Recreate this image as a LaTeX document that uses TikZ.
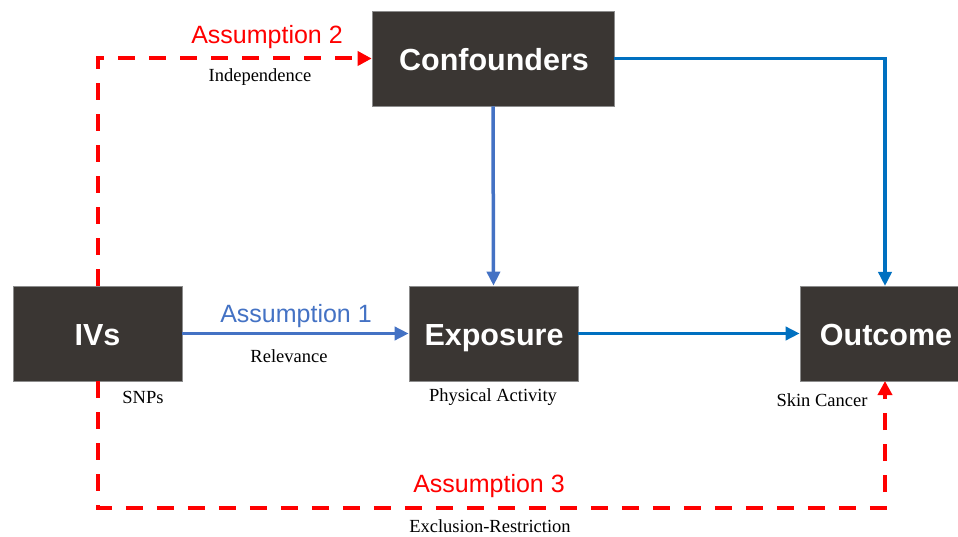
\documentclass[tikz,border=0pt]{standalone}
\usepackage{fontspec}
\setmainfont{Liberation Serif}
\newfontfamily\boxfont{Liberation Sans}
\usetikzlibrary{arrows.meta,calc}
\definecolor{boxfill}{HTML}{3A3633}
\definecolor{redline}{HTML}{FF0000}
\definecolor{blueA}{HTML}{4472C4}
\definecolor{blueB}{HTML}{0070C0}
\tikzset{
  darkbox/.style={draw=black!45, line width=0.6pt, fill=boxfill, minimum height=95pt, inner sep=0pt},
  boxlabel/.style={text=white, font=\boxfont\bfseries\fontsize{30.5}{33}\selectfont, inner sep=0pt, anchor=base},
  reddash/.style={draw=redline, line width=4pt, dash pattern=on 17pt off 14pt, -{Triangle[length=14pt,width=14pt]}},
  bluearrowA/.style={draw=blueA, line width=3.5pt, -{Triangle[length=14pt,width=13pt]}},
  bluearrowB/.style={draw=blueB, line width=3.5pt, -{Triangle[length=14pt,width=13pt]}},
  assump/.style={font=\boxfont\fontsize{25}{28}\selectfont, inner sep=0pt},
  smalltext/.style={font=\fontsize{18.5}{21}\selectfont, inner sep=0pt}
}
\begin{document}
\begin{tikzpicture}[x=1pt,y=-1pt]
\useasboundingbox (0,0) rectangle (958,537);
% boxes
\node[darkbox, minimum width=242pt] (conf) at (493,58.5) {};
\node[boxlabel] (conftext) at (494,71) {Confounders};
\node[darkbox, minimum width=169pt] (ivs) at (97.5,333.5) {};
\node[boxlabel] (ivstext) at (97.5,345) {IVs};
\node[darkbox, minimum width=169pt] (expo) at (493.5,333.5) {};
\node[boxlabel] (expotext) at (494,345) {Exposure};
\node[darkbox, minimum width=158pt] (outbox) at (879,333.5) {};
\node[boxlabel] (outtext) at (886,345) {Outcome};
% connectors
\coordinate (outtop) at (885,286);
\coordinate (outbot) at (885,381);
\draw[reddash] (ivs.north) |- (conf.west);
\draw[reddash] (ivs.south) -- (ivs.south |- 0,508) -| (outbot);
\draw[bluearrowA] (ivs.east) -- (expo.west);
\draw[bluearrowB] (expo.east) -- (outbox.west);
\draw[bluearrowA] (conf.south) -- (expo.north);
\draw[bluearrowB] (conf.east) -| (outtop);
% labels
\node[assump, text=redline] (a2) at (267,37) {Assumption 2};
\node[smalltext] (indep) at (260,77) {Independence};
\node[assump, text=blueA] (a1) at (296,316) {Assumption 1};
\node[smalltext] (relev) at (289,356) {Relevance};
\node[smalltext] (snps) at (143,397) {SNPs};
\node[smalltext] (phys) at (493,397) {Physical Activity};
\node[smalltext] (skin) at (822,400) {Skin Cancer};
\node[assump, text=redline] (a3) at (489,486) {Assumption 3};
\node[smalltext] (excl) at (490,526) {Exclusion-Restriction};
\end{tikzpicture}
\end{document}
